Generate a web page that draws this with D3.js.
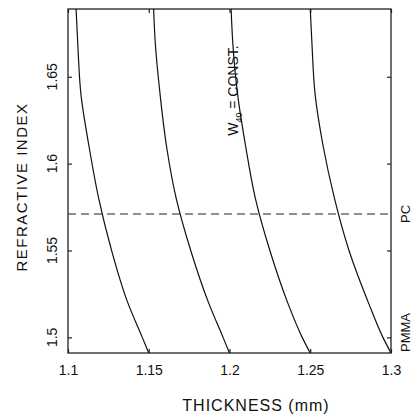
<!DOCTYPE html>
<html lang="en">
<head>
    <meta charset="UTF-8">
    <title>Refractive index vs thickness</title>
    <script src="https://d3js.org/d3.v7.min.js"></script>
    <style>
        body { margin: 0; background: #fff; }
        svg { display: block; }
        text { font-family: "Liberation Sans", Arial, sans-serif; fill: #111; }
    </style>
</head>
<body>
    <svg id="chart" width="416" height="419"></svg>
    <script>
        // refractive index samples (y) and thickness of each W40 = const. curve (x)
        const indexValues = [1.491, 1.50, 1.52, 1.55, 1.58, 1.61, 1.64, 1.67, 1.689];
        const curve1 = [1.150, 1.146, 1.137, 1.127, 1.119, 1.113, 1.108, 1.106, 1.105];
        const curve2 = [1.200, 1.196, 1.187, 1.176, 1.167, 1.161, 1.157, 1.154, 1.153];
        const curve3 = [1.250, 1.245, 1.236, 1.225, 1.216, 1.210, 1.205, 1.202, 1.201];
        const curve4 = [1.300, 1.295, 1.286, 1.274, 1.265, 1.258, 1.253, 1.251, 1.250];
        const curves = [curve1, curve2, curve3, curve4];

        const pcIndex = 1.571;
        const xTicks = [1.1, 1.15, 1.2, 1.25, 1.3];
        const yTicks = [1.5, 1.55, 1.6, 1.65];

        const margin = { top: 9, right: 25, bottom: 66, left: 68 };
        const svg = d3.select("#chart");
        const width = 416 - margin.left - margin.right;
        const height = 419 - margin.top - margin.bottom;
        const g = svg.append("g").attr("transform", `translate(${margin.left},${margin.top})`);

        const x = d3.scaleLinear().domain([1.1, 1.3]).range([0, width]);
        const y = d3.scaleLinear().domain([1.491, 1.689]).range([height, 0]);

        // frame
        g.append("rect")
            .attr("width", width).attr("height", height)
            .attr("fill", "none").attr("stroke", "#222").attr("stroke-width", 1.3);

        // inward ticks on all sides
        const fmt = d => String(+d.toFixed(2));
        const bottomAxis = g.append("g").attr("transform", `translate(0,${height})`)
            .call(d3.axisBottom(x).tickValues(xTicks).tickSize(-4).tickPadding(12).tickFormat(fmt));
        const topAxis = g.append("g")
            .call(d3.axisTop(x).tickValues(xTicks).tickSize(-4).tickFormat(""));
        const leftAxis = g.append("g")
            .call(d3.axisLeft(y).tickValues(yTicks).tickSize(-4).tickFormat(""));
        const rightAxis = g.append("g").attr("transform", `translate(${width},0)`)
            .call(d3.axisRight(y).tickValues(yTicks).tickSize(-4).tickFormat(""));
        [bottomAxis, topAxis, leftAxis, rightAxis].forEach(a => {
            a.select(".domain").remove();
            a.selectAll("line").attr("stroke", "#222").attr("stroke-width", 1.2);
        });
        bottomAxis.selectAll("text").attr("font-size", 14).attr("fill", "#111")
            .attr("font-family", "Liberation Sans, Arial, sans-serif");

        // rotated y tick labels
        g.append("g").selectAll("text")
            .data(yTicks).join("text")
            .attr("transform", d => `translate(-11,${y(d)}) rotate(-90)`)
            .attr("text-anchor", "middle")
            .attr("font-size", 14)
            .text(fmt);

        // curves
        const line = d3.line()
            .x(d => x(d[0]))
            .y(d => y(d[1]))
            .curve(d3.curveMonotoneY);
        g.append("g").selectAll("path")
            .data(curves).join("path")
            .attr("d", c => line(c.map((t, i) => [t, indexValues[i]])))
            .attr("fill", "none").attr("stroke", "#111").attr("stroke-width", 1.2);

        // PC dashed line
        g.append("line")
            .attr("x1", 0).attr("x2", width)
            .attr("y1", y(pcIndex)).attr("y2", y(pcIndex))
            .attr("stroke", "#222").attr("stroke-width", 1.1)
            .attr("stroke-dasharray", "8,5");

        // material labels on the right
        g.append("text")
            .attr("transform", `translate(${width + 19},${y(pcIndex)}) rotate(-90)`)
            .attr("text-anchor", "middle").attr("font-size", 13).text("PC");
        g.append("text")
            .attr("transform", `translate(${width + 19},${y(1.491) - 1}) rotate(-90)`)
            .attr("text-anchor", "start").attr("font-size", 13).text("PMMA");

        // W40 = CONST. label
        const wl = g.append("text")
            .attr("transform", `translate(${x(1.2) + 8},${y(1.616)}) rotate(-90)`)
            .attr("font-size", 14);
        wl.append("tspan").text("W");
        wl.append("tspan").attr("font-size", 9).attr("dy", 4).text("40");
        wl.append("tspan").attr("dy", -4).text(" = CONST.");

        // axis titles
        svg.append("text")
            .attr("x", 256).attr("y", 411)
            .attr("text-anchor", "middle").attr("font-size", 16)
            .attr("letter-spacing", 1)
            .text("THICKNESS (mm)");
        svg.append("text")
            .attr("transform", `translate(27,${margin.top + 178}) rotate(-90)`)
            .attr("text-anchor", "middle").attr("font-size", 15)
            .attr("letter-spacing", 1.5)
            .text("REFRACTIVE INDEX");
    </script>
</body>
</html>
